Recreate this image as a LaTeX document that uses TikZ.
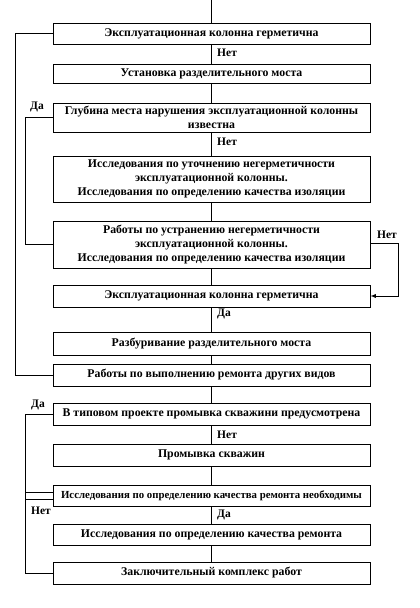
\documentclass[tikz,border=0pt]{standalone}
\usepackage{fontspec}
\setmainfont{Liberation Serif}
\tikzset{
	block/.style = {draw, line width = 0.9pt, minimum width = 317pt, minimum height = 21pt, inner sep = 1pt, align = center, font = \fontsize{11.8}{14}\selectfont\bfseries},
	link/.style = {line width = 0.9pt},
	tag/.style = {font = \fontsize{11.5}{12}\selectfont\bfseries, inner sep = 0pt}
}

\begin{document}
\begin{tikzpicture}[x = 1pt, y = -1pt]
		\useasboundingbox (0, 0) rectangle (420, 608) ;
		\begin{scope} % Blocks
			\node [block] (germ) at (211.5, 33.5) {Эксплуатационная колонна герметична} ;
			\node [block, minimum height = 19pt] (most) at (211.5, 74) {Установка разделительного моста} ;
			\node [block, minimum height = 29pt] (depth) at (211.5, 117.5) {Глубина места нарушения эксплуатационной колонны\\известна} ;
			\node [block, minimum height = 46pt] (study) at (211.5, 179) {Исследования по уточнению негерметичности\\эксплуатационной колонны.\\Исследования по определению качества изоляции} ;
			\node [block, minimum height = 47pt] (repair) at (211.5, 244.5) {Работы по устранению негерметичности\\эксплуатационной колонны.\\Исследования по определению качества изоляции} ;
			\node [block, minimum height = 22pt] (germtwo) at (211.5, 296) {Эксплуатационная колонна герметична} ;
			\node [block, minimum height = 23pt] (drill) at (211.5, 343.5) {Разбуривание разделительного моста} ;
			\node [block, minimum height = 22pt] (other) at (211.5, 375) {Работы по выполнению ремонта других видов} ;
			\node [block, minimum height = 22pt] (project) at (211.5, 414) {В типовом проекте промывка скважини предусмотрена} ;
			\node [block, minimum height = 22pt] (flush) at (211.5, 455) {Промывка скважин} ;
			\node [block, font = \fontsize{10.8}{14}\selectfont\bfseries] (need) at (211.5, 495.5) {Исследования по определению качества ремонта необходимы} ;
			\node [block] (quality) at (211.5, 534.5) {Исследования по определению качества ремонта} ;
			\node [block, minimum height = 22pt] (final) at (211.5, 573) {Заключительный комплекс работ} ;
		\end{scope}
		\coordinate (start) at (211.5, 0) ;
		% main line
		\draw [link] (start) -- (germ) -- (most) -- (depth) -- (study) -- (repair) -- (germtwo) -- (drill) -- (other) -- (project) -- (flush) -- (need) -- (quality) -- (final) ;
		\node [tag, anchor = west] (n1) at (217, 53) {Нет} ;
		\node [tag, anchor = west] (n2) at (217, 142) {Нет} ;
		\node [tag, anchor = west] (d1) at (217, 314) {Да} ;
		\node [tag, anchor = west] (n3) at (217, 435) {Нет} ;
		\node [tag, anchor = west] (d2) at (217, 515) {Да} ;
		% loops
		\draw [link] (germ.west) -- ++(-37, 0) |- (other.west) ;
		\draw [link] (depth.west) -- ++(-27, 0) |- (repair.west) ;
		\node [tag] (d3) at (37, 107) {Да} ;
		\draw [link, -latex] ([yshift = 1.5pt]repair.east) -- ++(28, 0) |- (germtwo.east) ;
		\node [tag] (n4) at (387, 235) {Нет} ;
		\draw [link] (project.west) -- ++(-27, 0) |- ([yshift = -3.5pt]need.west) ;
		\node [tag] (d4) at (38, 405) {Да} ;
		\draw [link] ([yshift = 3.5pt]need.west) -- ++(-27, 0) |- (final.west) ;
		\node [tag] (n5) at (41, 511) {Нет} ;
	\end{tikzpicture}
\end{document}
